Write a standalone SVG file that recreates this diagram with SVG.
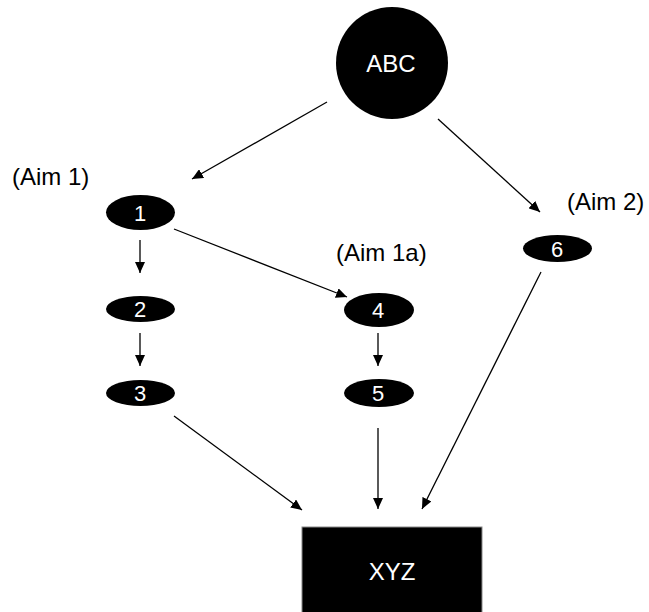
<svg xmlns="http://www.w3.org/2000/svg" width="649" height="612" viewBox="0 0 649 612">
<style>
.n{fill:#000}
.t{font-family:"Liberation Sans",Arial,sans-serif;font-size:22px;fill:#fff;text-anchor:middle}
.l{font-family:"Liberation Sans",Arial,sans-serif;font-size:24px;fill:#000}
.c line{stroke:#000;stroke-width:1.3;marker-end:url(#ah)}
</style>
<defs>
<marker id="ah" markerUnits="userSpaceOnUse" markerWidth="12" markerHeight="10" refX="11" refY="5" orient="auto">
<path d="M0,0 L11,5 L0,10 Z" fill="#000"/>
</marker>
</defs>
<rect width="649" height="612" fill="#fff"/>
<g class="c" id="connectors">
<line x1="327" y1="102" x2="192" y2="179"/>
<line x1="438" y1="119" x2="540" y2="212"/>
<line x1="174" y1="229" x2="347" y2="297"/>
<line x1="140" y1="240" x2="140" y2="273"/>
<line x1="140" y1="333" x2="140" y2="366"/>
<line x1="378" y1="333" x2="378" y2="366"/>
<line x1="174" y1="416" x2="302" y2="510"/>
<line x1="378" y1="428" x2="378" y2="509"/>
<line x1="541" y1="272" x2="422" y2="509"/>
</g>
<g id="abc"><circle class="n" cx="392" cy="63" r="56"/><text class="t" x="391" y="72" style="font-size:24px">ABC</text></g>
<g id="n1"><ellipse class="n" cx="140.5" cy="212.5" rx="34.5" ry="17.5"/><text class="t" x="140" y="221">1</text></g>
<g id="n2"><ellipse class="n" cx="140.5" cy="309" rx="34.5" ry="13"/><text class="t" x="140" y="317">2</text></g>
<g id="n3"><ellipse class="n" cx="140.5" cy="393" rx="34.5" ry="13"/><text class="t" x="140" y="401">3</text></g>
<g id="n4"><ellipse class="n" cx="379" cy="310" rx="35" ry="17"/><text class="t" x="378" y="318">4</text></g>
<g id="n5"><ellipse class="n" cx="379" cy="393" rx="35" ry="14"/><text class="t" x="378" y="401">5</text></g>
<g id="n6"><ellipse class="n" cx="557.5" cy="248.5" rx="34.5" ry="13.5"/><text class="t" x="557" y="257">6</text></g>
<g id="xyz"><rect x="302" y="527" width="180" height="90" fill="#000" stroke="#888" stroke-width="1"/><text class="t" x="392" y="580" style="font-size:24px">XYZ</text></g>
<g id="labels">
<text class="l" x="12" y="185">(Aim 1)</text>
<text class="l" x="336" y="261">(Aim 1a)</text>
<text class="l" x="567" y="210">(Aim 2)</text>
</g>
</svg>
